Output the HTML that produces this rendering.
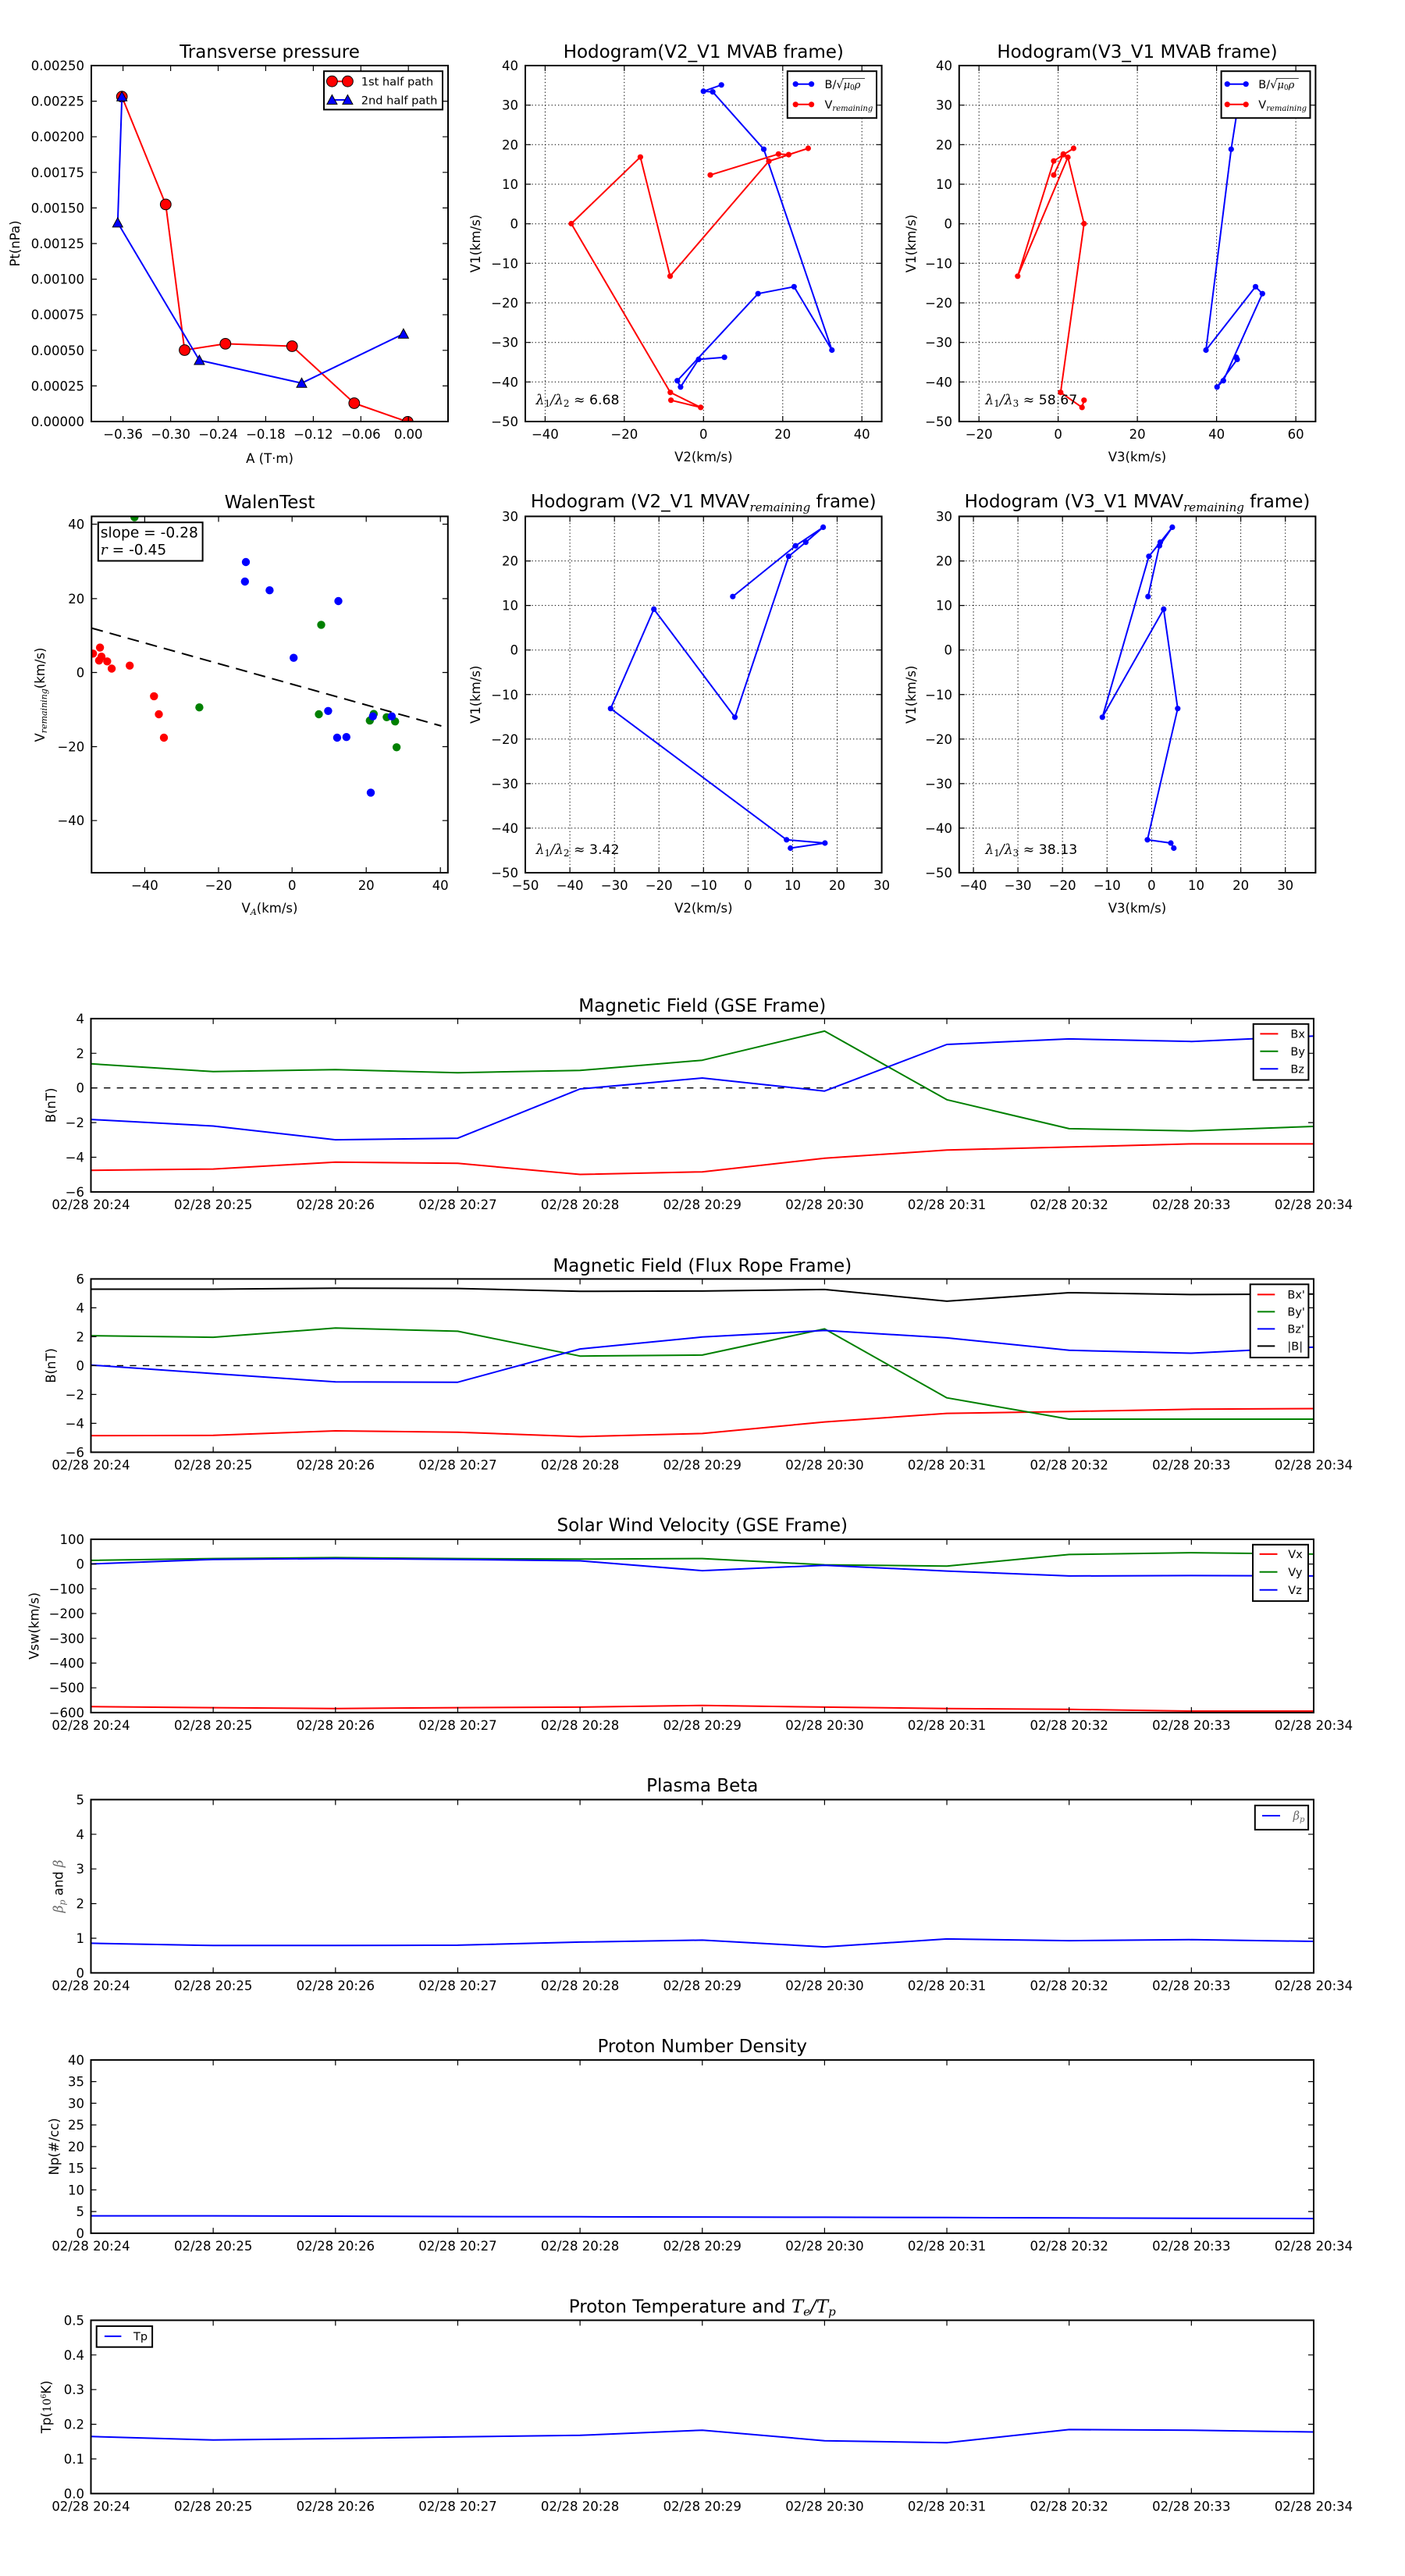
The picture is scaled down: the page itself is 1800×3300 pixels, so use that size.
<!DOCTYPE html>
<html><head><meta charset="utf-8">
<style>
html,body{margin:0;padding:0;background:#fff}
svg{display:block}
text{font-family:"DejaVu Sans","Liberation Sans",sans-serif;fill:#000}
.t{font-size:16.5px}
.tm{font-size:16.5px;text-anchor:middle}
.te{font-size:16.5px;text-anchor:end}
.ti{font-size:23px;text-anchor:middle}
.lg{font-size:14.5px}
.m{font-family:"DejaVu Serif","Liberation Serif",serif;font-style:italic}
.sr{font-family:"DejaVu Serif","Liberation Serif",serif}
.ax{fill:none;stroke:#000;stroke-width:2}
.tk{fill:none;stroke:#000;stroke-width:1.2}
.gr{fill:none;stroke:#000;stroke-width:1;stroke-dasharray:1.3,2.9}
.ln{fill:none;stroke-width:2;stroke-linejoin:round}
.lb{fill:#fff;stroke:#000;stroke-width:2}
</style></head>
<body>
<svg width="1800" height="3300" viewBox="0 0 1800 3300" xmlns="http://www.w3.org/2000/svg">
<rect x="0" y="0" width="1800" height="3300" fill="#fff"/>
<defs>
<clipPath id="c1"><rect x="117" y="84" width="457" height="456"/></clipPath>
<clipPath id="c2"><rect x="673" y="84" width="456.6" height="456"/></clipPath>
<clipPath id="c3"><rect x="1228.8" y="84" width="456.6" height="456"/></clipPath>
<clipPath id="c4"><rect x="117.3" y="661.5" width="456.5" height="456.5"/></clipPath>
<clipPath id="c5"><rect x="673" y="661.5" width="456.6" height="456.5"/></clipPath>
<clipPath id="c6"><rect x="1228.8" y="661.5" width="456.6" height="456.5"/></clipPath>
<clipPath id="p1"><rect x="116.5" y="1304.9" width="1566.5" height="222"/></clipPath>
<clipPath id="p2"><rect x="116.5" y="1638.4" width="1566.5" height="222"/></clipPath>
<clipPath id="p3"><rect x="116.5" y="1971.9" width="1566.5" height="222"/></clipPath>
<clipPath id="p4"><rect x="116.5" y="2305.4" width="1566.5" height="222"/></clipPath>
<clipPath id="p5"><rect x="116.5" y="2638.9" width="1566.5" height="222"/></clipPath>
<clipPath id="p6"><rect x="116.5" y="2972.4" width="1566.5" height="222"/></clipPath>
</defs>

<!-- ============ Plot 1: Transverse pressure ============ -->
<text class="ti" x="345.5" y="74">Transverse pressure</text>
<g clip-path="url(#c1)">
<path class="ln" stroke="#f00" d="M156.2 123.8L212.3 261.9L236.5 448.5L288.8 440.4L374.2 443.5L453.8 516.5L522.3 540.4"/>
<g fill="#f00" stroke="#000" stroke-width="1">
<circle cx="156.2" cy="123.8" r="6.9"/><circle cx="212.3" cy="261.9" r="6.9"/><circle cx="236.5" cy="448.5" r="6.9"/><circle cx="288.8" cy="440.4" r="6.9"/><circle cx="374.2" cy="443.5" r="6.9"/><circle cx="453.8" cy="516.5" r="6.9"/><circle cx="522.3" cy="540.4" r="6.9"/>
</g>
<path class="ln" stroke="#00f" d="M156.2 123.8L150.8 285.4L255.4 461.5L386.5 490.8L516.9 427.7"/>
<g fill="#00f" stroke="#000" stroke-width="1">
<polygon points="156.2,117.3 149.7,129.3 162.7,129.3"/>
<polygon points="150.8,278.9 144.3,290.9 157.3,290.9"/>
<polygon points="255.4,455 248.9,467 261.9,467"/>
<polygon points="386.5,484.3 380,496.3 393,496.3"/>
<polygon points="516.9,421.2 510.4,433.2 523.4,433.2"/>
</g>
</g>
<rect class="ax" x="117" y="84" width="457" height="456"/>
<path class="tk" d="M157.6 540v-7M157.6 84v7M218.6 540v-7M218.6 84v7M279.5 540v-7M279.5 84v7M340.4 540v-7M340.4 84v7M401.4 540v-7M401.4 84v7M462.3 540v-7M462.3 84v7M523.2 540v-7M523.2 84v7M117 129.6h7M574 129.6h-7M117 175.2h7M574 175.2h-7M117 220.8h7M574 220.8h-7M117 266.4h7M574 266.4h-7M117 312h7M574 312h-7M117 357.6h7M574 357.6h-7M117 403.2h7M574 403.2h-7M117 448.8h7M574 448.8h-7M117 494.4h7M574 494.4h-7"/>
<text class="tm" x="157.6" y="562">−0.36</text><text class="tm" x="218.6" y="562">−0.30</text><text class="tm" x="279.5" y="562">−0.24</text><text class="tm" x="340.4" y="562">−0.18</text><text class="tm" x="401.4" y="562">−0.12</text><text class="tm" x="462.3" y="562">−0.06</text><text class="tm" x="523.2" y="562">0.00</text>
<text class="te" x="108" y="90">0.00250</text><text class="te" x="108" y="135.6">0.00225</text><text class="te" x="108" y="181.2">0.00200</text><text class="te" x="108" y="226.8">0.00175</text><text class="te" x="108" y="272.4">0.00150</text><text class="te" x="108" y="318">0.00125</text><text class="te" x="108" y="363.6">0.00100</text><text class="te" x="108" y="409.2">0.00075</text><text class="te" x="108" y="454.8">0.00050</text><text class="te" x="108" y="500.4">0.00025</text><text class="te" x="108" y="546">0.00000</text>
<text class="tm" x="345.5" y="593">A (T·m)</text>
<text class="tm" transform="translate(25,312) rotate(-90)">Pt(nPa)</text>
<rect class="lb" x="415" y="91.2" width="152" height="49.2"/>
<path class="ln" stroke="#f00" d="M425.4 104.2H445.4"/>
<circle cx="425.4" cy="104.2" r="6.9" fill="#f00" stroke="#000"/><circle cx="445.4" cy="104.2" r="6.9" fill="#f00" stroke="#000"/>
<text class="lg" x="462.7" y="109.5" style="font-size:14.6px">1st half path</text>
<path class="ln" stroke="#00f" d="M425.4 128H445.4"/>
<polygon points="425.4,121.5 418.9,133.5 431.9,133.5" fill="#00f" stroke="#000"/><polygon points="445.4,121.5 438.9,133.5 451.9,133.5" fill="#00f" stroke="#000"/>
<text class="lg" x="462.7" y="133.3" style="font-size:14.6px">2nd half path</text>

<!-- ============ Plot 2: Hodogram V2_V1 MVAB ============ -->
<text class="ti" x="901.3" y="74">Hodogram(V2_V1 MVAB frame)</text>
<path class="gr" d="M698.4 84V540M799.8 84V540M901.3 84V540M1002.8 84V540M1104.2 84V540M673 134.7H1129.6M673 185.3H1129.6M673 236H1129.6M673 286.7H1129.6M673 337.3H1129.6M673 388H1129.6M673 438.7H1129.6M673 489.3H1129.6"/>
<g clip-path="url(#c2)">
<path class="ln" stroke="#00f" d="M924.2 108.8L901.2 116.9L913.1 117.7L978.5 191.2L1065.8 448.5L1017.3 367.3L971.2 376.2L867.7 487.7L871.9 495.8L895 460.4L928.1 457.7"/>
<g fill="#00f"><circle cx="924.2" cy="108.8" r="3.6"/><circle cx="901.2" cy="116.9" r="3.6"/><circle cx="913.1" cy="117.7" r="3.6"/><circle cx="978.5" cy="191.2" r="3.6"/><circle cx="1065.8" cy="448.5" r="3.6"/><circle cx="1017.3" cy="367.3" r="3.6"/><circle cx="971.2" cy="376.2" r="3.6"/><circle cx="867.7" cy="487.7" r="3.6"/><circle cx="871.9" cy="495.8" r="3.6"/><circle cx="895" cy="460.4" r="3.6"/><circle cx="928.1" cy="457.7" r="3.6"/></g>
<path class="ln" stroke="#f00" d="M910 224.2L997.3 197.3L1010.4 198.1L1035.4 190L985 206.5L858.5 353.8L820.4 201.2L731.9 286.5L858.8 502.7L897.7 521.9L859.6 512.7"/>
<g fill="#f00"><circle cx="910" cy="224.2" r="3.6"/><circle cx="997.3" cy="197.3" r="3.6"/><circle cx="1010.4" cy="198.1" r="3.6"/><circle cx="1035.4" cy="190" r="3.6"/><circle cx="985" cy="206.5" r="3.6"/><circle cx="858.5" cy="353.8" r="3.6"/><circle cx="820.4" cy="201.2" r="3.6"/><circle cx="731.9" cy="286.5" r="3.6"/><circle cx="858.8" cy="502.7" r="3.6"/><circle cx="897.7" cy="521.9" r="3.6"/><circle cx="859.6" cy="512.7" r="3.6"/></g>
</g>
<rect class="ax" x="673" y="84" width="456.6" height="456"/>
<path class="tk" d="M698.4 540v-7M698.4 84v7M799.8 540v-7M799.8 84v7M901.3 540v-7M901.3 84v7M1002.8 540v-7M1002.8 84v7M1104.2 540v-7M1104.2 84v7M673 134.7h7M1129.6 134.7h-7M673 185.3h7M1129.6 185.3h-7M673 236h7M1129.6 236h-7M673 286.7h7M1129.6 286.7h-7M673 337.3h7M1129.6 337.3h-7M673 388h7M1129.6 388h-7M673 438.7h7M1129.6 438.7h-7M673 489.3h7M1129.6 489.3h-7"/>
<text class="tm" x="698.4" y="562">−40</text><text class="tm" x="799.8" y="562">−20</text><text class="tm" x="901.3" y="562">0</text><text class="tm" x="1002.8" y="562">20</text><text class="tm" x="1104.2" y="562">40</text>
<text class="te" x="664" y="90">40</text><text class="te" x="664" y="140.7">30</text><text class="te" x="664" y="191.3">20</text><text class="te" x="664" y="242">10</text><text class="te" x="664" y="292.7">0</text><text class="te" x="664" y="343.3">−10</text><text class="te" x="664" y="394">−20</text><text class="te" x="664" y="444.7">−30</text><text class="te" x="664" y="495.3">−40</text><text class="te" x="664" y="546">−50</text>
<text class="tm" x="901.3" y="591">V2(km/s)</text>
<text class="tm" transform="translate(615,312) rotate(-90)">V1(km/s)</text>
<text x="686.5" y="518" style="font-size:17.3px"><tspan class="m">λ</tspan><tspan class="sr" style="font-size:12px" dy="3">1</tspan><tspan class="m" dy="-3">/λ</tspan><tspan class="sr" style="font-size:12px" dy="3">2</tspan><tspan class="sr" dy="-3"> ≈ </tspan>6.68</text>
<rect class="lb" x="1008.8" y="91.2" width="114.2" height="60"/>
<path class="ln" stroke="#00f" d="M1019.2 107.7H1039.6"/><circle cx="1019.2" cy="107.7" r="3.6" fill="#00f"/><circle cx="1039.6" cy="107.7" r="3.6" fill="#00f"/>
<text class="lg" x="1056.5" y="113">B/√<tspan class="m" style="font-size:13px">μ</tspan><tspan class="sr" style="font-size:9px" dy="2">0</tspan><tspan class="m" style="font-size:13px" dy="-2">ρ</tspan></text>
<path d="M1079 100.5H1108" stroke="#000" stroke-width="0.8"/>
<path class="ln" stroke="#f00" d="M1019.2 133.8H1039.6"/><circle cx="1019.2" cy="133.8" r="3.6" fill="#f00"/><circle cx="1039.6" cy="133.8" r="3.6" fill="#f00"/>
<text class="lg" x="1056.5" y="139">V<tspan class="m" style="font-size:10px" dy="3">remaining</tspan></text>

<!-- ============ Plot 3: Hodogram V3_V1 MVAB ============ -->
<text class="ti" x="1457" y="74">Hodogram(V3_V1 MVAB frame)</text>
<path class="gr" d="M1254.2 84V540M1355.6 84V540M1457.1 84V540M1558.6 84V540M1660.1 84V540M1228.8 134.7H1685.4M1228.8 185.3H1685.4M1228.8 236H1685.4M1228.8 286.7H1685.4M1228.8 337.3H1685.4M1228.8 388H1685.4M1228.8 438.7H1685.4M1228.8 489.3H1685.4"/>
<g clip-path="url(#c3)">
<path class="ln" stroke="#00f" d="M1590 108.8L1587 116.9L1588.8 117.7L1577.3 191.2L1545 448.5L1608.5 367.3L1617.3 376.2L1567.3 487.7L1559.2 495.8L1585 460.4L1583.8 457.7"/>
<g fill="#00f"><circle cx="1577.3" cy="191.2" r="3.6"/><circle cx="1545" cy="448.5" r="3.6"/><circle cx="1608.5" cy="367.3" r="3.6"/><circle cx="1617.3" cy="376.2" r="3.6"/><circle cx="1567.3" cy="487.7" r="3.6"/><circle cx="1559.2" cy="495.8" r="3.6"/><circle cx="1585" cy="460.4" r="3.6"/><circle cx="1583.8" cy="457.7" r="3.6"/></g>
<path class="ln" stroke="#f00" d="M1350 224.2L1362.3 197.3L1362.3 198.1L1375.4 190L1350 206.2L1303.8 353.8L1368.1 201.5L1388.8 286.5L1358.8 502.7L1386.2 521.9L1388.8 512.7"/>
<g fill="#f00"><circle cx="1350" cy="224.2" r="3.6"/><circle cx="1362.3" cy="197.3" r="3.6"/><circle cx="1362.3" cy="198.1" r="3.6"/><circle cx="1375.4" cy="190" r="3.6"/><circle cx="1350" cy="206.2" r="3.6"/><circle cx="1303.8" cy="353.8" r="3.6"/><circle cx="1368.1" cy="201.5" r="3.6"/><circle cx="1388.8" cy="286.5" r="3.6"/><circle cx="1358.8" cy="502.7" r="3.6"/><circle cx="1386.2" cy="521.9" r="3.6"/><circle cx="1388.8" cy="512.7" r="3.6"/></g>
</g>
<rect class="ax" x="1228.8" y="84" width="456.6" height="456"/>
<path class="tk" d="M1254.2 540v-7M1254.2 84v7M1355.6 540v-7M1355.6 84v7M1457.1 540v-7M1457.1 84v7M1558.6 540v-7M1558.6 84v7M1660.1 540v-7M1660.1 84v7M1228.8 134.7h7M1685.4 134.7h-7M1228.8 185.3h7M1685.4 185.3h-7M1228.8 236h7M1685.4 236h-7M1228.8 286.7h7M1685.4 286.7h-7M1228.8 337.3h7M1685.4 337.3h-7M1228.8 388h7M1685.4 388h-7M1228.8 438.7h7M1685.4 438.7h-7M1228.8 489.3h7M1685.4 489.3h-7"/>
<text class="tm" x="1254.2" y="562">−20</text><text class="tm" x="1355.6" y="562">0</text><text class="tm" x="1457.1" y="562">20</text><text class="tm" x="1558.6" y="562">40</text><text class="tm" x="1660.1" y="562">60</text>
<text class="te" x="1220" y="90">40</text><text class="te" x="1220" y="140.7">30</text><text class="te" x="1220" y="191.3">20</text><text class="te" x="1220" y="242">10</text><text class="te" x="1220" y="292.7">0</text><text class="te" x="1220" y="343.3">−10</text><text class="te" x="1220" y="394">−20</text><text class="te" x="1220" y="444.7">−30</text><text class="te" x="1220" y="495.3">−40</text><text class="te" x="1220" y="546">−50</text>
<text class="tm" x="1457" y="591">V3(km/s)</text>
<text class="tm" transform="translate(1173,312) rotate(-90)">V1(km/s)</text>
<text x="1262.3" y="518" style="font-size:17.3px"><tspan class="m">λ</tspan><tspan class="sr" style="font-size:12px" dy="3">1</tspan><tspan class="m" dy="-3">/λ</tspan><tspan class="sr" style="font-size:12px" dy="3">3</tspan><tspan class="sr" dy="-3"> ≈ </tspan>58.67</text>
<rect class="lb" x="1564.6" y="91.2" width="113.9" height="60"/>
<path class="ln" stroke="#00f" d="M1572.3 107.7H1596.2"/><circle cx="1572.3" cy="107.7" r="3.6" fill="#00f"/><circle cx="1596.2" cy="107.7" r="3.6" fill="#00f"/>
<text class="lg" x="1612.3" y="113">B/√<tspan class="m" style="font-size:13px">μ</tspan><tspan class="sr" style="font-size:9px" dy="2">0</tspan><tspan class="m" style="font-size:13px" dy="-2">ρ</tspan></text>
<path d="M1634.8 100.5H1663.8" stroke="#000" stroke-width="0.8"/>
<path class="ln" stroke="#f00" d="M1572.3 133.8H1596.2"/><circle cx="1572.3" cy="133.8" r="3.6" fill="#f00"/><circle cx="1596.2" cy="133.8" r="3.6" fill="#f00"/>
<text class="lg" x="1612.3" y="139">V<tspan class="m" style="font-size:10px" dy="3">remaining</tspan></text>

<!-- ============ Row 2: WalenTest ============ -->
<text class="ti" x="345.5" y="651">WalenTest</text>
<g clip-path="url(#c4)">
<path d="M117.3 804.6L565.4 930" fill="none" stroke="#000" stroke-width="2" stroke-dasharray="15,9"/>
<g fill="#f00"><circle cx="119.2" cy="837.3" r="5.2"/><circle cx="128.1" cy="829.6" r="5.2"/><circle cx="130" cy="841.2" r="5.2"/><circle cx="126.9" cy="846.2" r="5.2"/><circle cx="137.3" cy="847.3" r="5.2"/><circle cx="143.1" cy="856.5" r="5.2"/><circle cx="166.2" cy="852.7" r="5.2"/><circle cx="197.3" cy="891.9" r="5.2"/><circle cx="203.5" cy="915" r="5.2"/><circle cx="210" cy="945" r="5.2"/></g>
<g fill="#008000"><circle cx="172.3" cy="662.7" r="5.2"/><circle cx="255.4" cy="906.2" r="5.2"/><circle cx="411.5" cy="800.4" r="5.2"/><circle cx="408.5" cy="915" r="5.2"/><circle cx="473.8" cy="923.1" r="5.2"/><circle cx="478.8" cy="914.6" r="5.2"/><circle cx="495.4" cy="918.8" r="5.2"/><circle cx="506.2" cy="924.2" r="5.2"/><circle cx="508.1" cy="957.3" r="5.2"/></g>
<g fill="#00f"><circle cx="315" cy="720" r="5.2"/><circle cx="313.8" cy="745" r="5.2"/><circle cx="345.4" cy="756.2" r="5.2"/><circle cx="433.5" cy="770" r="5.2"/><circle cx="376.2" cy="842.7" r="5.2"/><circle cx="420.4" cy="910.8" r="5.2"/><circle cx="431.9" cy="945" r="5.2"/><circle cx="443.8" cy="944.2" r="5.2"/><circle cx="477.7" cy="917.7" r="5.2"/><circle cx="501.9" cy="917.7" r="5.2"/><circle cx="475" cy="1015.4" r="5.2"/></g>
</g>
<rect class="ax" x="117.3" y="661.5" width="456.5" height="456.5"/>
<path class="tk" d="M185.4 1118v-7M185.4 661.5v7M280 1118v-7M280 661.5v7M374.2 1118v-7M374.2 661.5v7M469.2 1118v-7M469.2 661.5v7M564.2 1118v-7M564.2 661.5v7M117.3 671.5h7M573.8 671.5h-7M117.3 766.9h7M573.8 766.9h-7M117.3 861.5h7M573.8 861.5h-7M117.3 956.5h7M573.8 956.5h-7M117.3 1051.2h7M573.8 1051.2h-7"/>
<text class="tm" x="185.4" y="1140">−40</text><text class="tm" x="280" y="1140">−20</text><text class="tm" x="374.2" y="1140">0</text><text class="tm" x="469.2" y="1140">20</text><text class="tm" x="564.2" y="1140">40</text>
<text class="te" x="108.3" y="677.5">40</text><text class="te" x="108.3" y="772.9">20</text><text class="te" x="108.3" y="867.5">0</text><text class="te" x="108.3" y="962.5">−20</text><text class="te" x="108.3" y="1057.2">−40</text>
<text class="tm" x="345.5" y="1169">V<tspan class="m" style="font-size:11px" dy="3">A</tspan><tspan dy="-3">(km/s)</tspan></text>
<text class="tm" transform="translate(57,890) rotate(-90)">V<tspan class="m" style="font-size:11px" dy="3">remaining</tspan><tspan dy="-3">(km/s)</tspan></text>
<rect class="lb" x="125.8" y="669.2" width="133.8" height="49.3"/>
<text x="128.8" y="688.5" style="font-size:18.6px">slope = -0.28</text>
<text x="128.8" y="710.4" style="font-size:18.6px"><tspan class="m">r</tspan> = -0.45</text>

<!-- ============ Row 2: Hodogram V2_V1 MVAV ============ -->
<text class="ti" x="901.3" y="650">Hodogram (V2_V1 MVAV<tspan class="m" style="font-size:15px" dy="5">remaining</tspan><tspan dy="-5"> frame)</tspan></text>
<path class="gr" d="M730.1 661.5V1118M787.2 661.5V1118M844.2 661.5V1118M901.3 661.5V1118M958.4 661.5V1118M1015.5 661.5V1118M1072.5 661.5V1118M673 718.6H1129.6M673 775.6H1129.6M673 832.7H1129.6M673 889.75H1129.6M673 946.8H1129.6M673 1003.9H1129.6M673 1060.9H1129.6"/>
<g clip-path="url(#c5)">
<path class="ln" stroke="#00f" d="M938.8 764.2L1019.2 699.2L1054.6 675.4L1032.3 694.6L1010.4 712.7L941.5 918.8L837.7 780.4L782.3 907.7L1007.7 1075.8L1056.9 1080L1012.7 1086.5"/>
<g fill="#00f"><circle cx="938.8" cy="764.2" r="3.6"/><circle cx="1019.2" cy="699.2" r="3.6"/><circle cx="1054.6" cy="675.4" r="3.6"/><circle cx="1032.3" cy="694.6" r="3.6"/><circle cx="1010.4" cy="712.7" r="3.6"/><circle cx="941.5" cy="918.8" r="3.6"/><circle cx="837.7" cy="780.4" r="3.6"/><circle cx="782.3" cy="907.7" r="3.6"/><circle cx="1007.7" cy="1075.8" r="3.6"/><circle cx="1056.9" cy="1080" r="3.6"/><circle cx="1012.7" cy="1086.5" r="3.6"/></g>
</g>
<rect class="ax" x="673" y="661.5" width="456.6" height="456.5"/>
<path class="tk" d="M730.1 1118v-7M730.1 661.5v7M787.2 1118v-7M787.2 661.5v7M844.2 1118v-7M844.2 661.5v7M901.3 1118v-7M901.3 661.5v7M958.4 1118v-7M958.4 661.5v7M1015.5 1118v-7M1015.5 661.5v7M1072.5 1118v-7M1072.5 661.5v7M673 718.6h7M1129.6 718.6h-7M673 775.6h7M1129.6 775.6h-7M673 832.7h7M1129.6 832.7h-7M673 889.75h7M1129.6 889.75h-7M673 946.8h7M1129.6 946.8h-7M673 1003.9h7M1129.6 1003.9h-7M673 1060.9h7M1129.6 1060.9h-7"/>
<text class="tm" x="673" y="1140">−50</text><text class="tm" x="730.1" y="1140">−40</text><text class="tm" x="787.2" y="1140">−30</text><text class="tm" x="844.2" y="1140">−20</text><text class="tm" x="901.3" y="1140">−10</text><text class="tm" x="958.4" y="1140">0</text><text class="tm" x="1015.5" y="1140">10</text><text class="tm" x="1072.5" y="1140">20</text><text class="tm" x="1129.6" y="1140">30</text>
<text class="te" x="664" y="667.5">30</text><text class="te" x="664" y="724.6">20</text><text class="te" x="664" y="781.6">10</text><text class="te" x="664" y="838.7">0</text><text class="te" x="664" y="895.75">−10</text><text class="te" x="664" y="952.8">−20</text><text class="te" x="664" y="1009.9">−30</text><text class="te" x="664" y="1066.9">−40</text><text class="te" x="664" y="1124">−50</text>
<text class="tm" x="901.3" y="1169">V2(km/s)</text>
<text class="tm" transform="translate(615,889.75) rotate(-90)">V1(km/s)</text>
<text x="686.5" y="1094" style="font-size:17.3px"><tspan class="m">λ</tspan><tspan class="sr" style="font-size:12px" dy="3">1</tspan><tspan class="m" dy="-3">/λ</tspan><tspan class="sr" style="font-size:12px" dy="3">2</tspan><tspan class="sr" dy="-3"> ≈ </tspan>3.42</text>

<!-- ============ Row 2: Hodogram V3_V1 MVAV ============ -->
<text class="ti" x="1457" y="650">Hodogram (V3_V1 MVAV<tspan class="m" style="font-size:15px" dy="5">remaining</tspan><tspan dy="-5"> frame)</tspan></text>
<path class="gr" d="M1247.1 661.5V1118M1304.1 661.5V1118M1361.2 661.5V1118M1418.3 661.5V1118M1475.4 661.5V1118M1532.5 661.5V1118M1589.6 661.5V1118M1646.7 661.5V1118M1228.8 718.6H1685.4M1228.8 775.6H1685.4M1228.8 832.7H1685.4M1228.8 889.75H1685.4M1228.8 946.8H1685.4M1228.8 1003.9H1685.4M1228.8 1060.9H1685.4"/>
<g clip-path="url(#c6)">
<path class="ln" stroke="#00f" d="M1470.8 764.2L1485.4 699.2L1501.9 675.4L1486.5 694.6L1471.9 712.7L1412.3 918.8L1490.8 780.4L1508.8 907.7L1470 1075.8L1500 1080L1503.8 1086.5"/>
<g fill="#00f"><circle cx="1470.8" cy="764.2" r="3.6"/><circle cx="1485.4" cy="699.2" r="3.6"/><circle cx="1501.9" cy="675.4" r="3.6"/><circle cx="1486.5" cy="694.6" r="3.6"/><circle cx="1471.9" cy="712.7" r="3.6"/><circle cx="1412.3" cy="918.8" r="3.6"/><circle cx="1490.8" cy="780.4" r="3.6"/><circle cx="1508.8" cy="907.7" r="3.6"/><circle cx="1470" cy="1075.8" r="3.6"/><circle cx="1500" cy="1080" r="3.6"/><circle cx="1503.8" cy="1086.5" r="3.6"/></g>
</g>
<rect class="ax" x="1228.8" y="661.5" width="456.6" height="456.5"/>
<path class="tk" d="M1247.1 1118v-7M1247.1 661.5v7M1304.1 1118v-7M1304.1 661.5v7M1361.2 1118v-7M1361.2 661.5v7M1418.3 1118v-7M1418.3 661.5v7M1475.4 1118v-7M1475.4 661.5v7M1532.5 1118v-7M1532.5 661.5v7M1589.6 1118v-7M1589.6 661.5v7M1646.7 1118v-7M1646.7 661.5v7M1228.8 718.6h7M1685.4 718.6h-7M1228.8 775.6h7M1685.4 775.6h-7M1228.8 832.7h7M1685.4 832.7h-7M1228.8 889.75h7M1685.4 889.75h-7M1228.8 946.8h7M1685.4 946.8h-7M1228.8 1003.9h7M1685.4 1003.9h-7M1228.8 1060.9h7M1685.4 1060.9h-7"/>
<text class="tm" x="1247.1" y="1140">−40</text><text class="tm" x="1304.1" y="1140">−30</text><text class="tm" x="1361.2" y="1140">−20</text><text class="tm" x="1418.3" y="1140">−10</text><text class="tm" x="1475.4" y="1140">0</text><text class="tm" x="1532.5" y="1140">10</text><text class="tm" x="1589.6" y="1140">20</text><text class="tm" x="1646.7" y="1140">30</text>
<text class="te" x="1220" y="667.5">30</text><text class="te" x="1220" y="724.6">20</text><text class="te" x="1220" y="781.6">10</text><text class="te" x="1220" y="838.7">0</text><text class="te" x="1220" y="895.75">−10</text><text class="te" x="1220" y="952.8">−20</text><text class="te" x="1220" y="1009.9">−30</text><text class="te" x="1220" y="1066.9">−40</text><text class="te" x="1220" y="1124">−50</text>
<text class="tm" x="1457" y="1169">V3(km/s)</text>
<text class="tm" transform="translate(1173,889.75) rotate(-90)">V1(km/s)</text>
<text x="1262.3" y="1094" style="font-size:17.3px"><tspan class="m">λ</tspan><tspan class="sr" style="font-size:12px" dy="3">1</tspan><tspan class="m" dy="-3">/λ</tspan><tspan class="sr" style="font-size:12px" dy="3">3</tspan><tspan class="sr" dy="-3"> ≈ </tspan>38.13</text>

<!-- ============ P1: Magnetic Field (GSE Frame) ============ -->
<text class="ti" x="899.75" y="1296">Magnetic Field (GSE Frame)</text>
<g clip-path="url(#p1)">
<path d="M116.5 1393.7H1683" fill="none" stroke="#000" stroke-width="1.4" stroke-dasharray="8.3,8.3"/>
<path class="ln" stroke="#f00" d="M116.5 1499.2L273.15 1497.6L429.8 1488.7L586.45 1490.3L743.1 1504.5L899.75 1501.2L1056.4 1483.8L1213.05 1473.2L1369.7 1469.4L1526.35 1465.4L1683 1465.4"/>
<path class="ln" stroke="#008000" d="M116.5 1362.8L273.15 1372.8L429.8 1370.2L586.45 1374.2L743.1 1371.3L899.75 1358.2L1056.4 1320.9L1213.05 1408.8L1369.7 1445.9L1526.35 1448.8L1683 1443"/>
<path class="ln" stroke="#00f" d="M116.5 1434.1L273.15 1442.5L429.8 1460.1L586.45 1458.1L743.1 1395L899.75 1381L1056.4 1397.7L1213.05 1338L1369.7 1330.9L1526.35 1334.2L1683 1327.3"/>
</g>
<rect class="ax" x="116.5" y="1304.9" width="1566.5" height="222"/>
<path class="tk" d="M273.15 1304.9v7M273.15 1526.9v-7M429.8 1304.9v7M429.8 1526.9v-7M586.45 1304.9v7M586.45 1526.9v-7M743.1 1304.9v7M743.1 1526.9v-7M899.75 1304.9v7M899.75 1526.9v-7M1056.4 1304.9v7M1056.4 1526.9v-7M1213.05 1304.9v7M1213.05 1526.9v-7M1369.7 1304.9v7M1369.7 1526.9v-7M1526.35 1304.9v7M1526.35 1526.9v-7M116.5 1349.3h7M1683 1349.3h-7M116.5 1393.7h7M1683 1393.7h-7M116.5 1438.1h7M1683 1438.1h-7M116.5 1482.5h7M1683 1482.5h-7"/>
<text class="te" x="108" y="1310.9">4</text><text class="te" x="108" y="1355.3">2</text><text class="te" x="108" y="1399.7">0</text><text class="te" x="108" y="1444.1">−2</text><text class="te" x="108" y="1488.5">−4</text><text class="te" x="108" y="1532.9">−6</text>
<text class="tm" x="116.5" y="1549">02/28 20:24</text><text class="tm" x="273.15" y="1549">02/28 20:25</text><text class="tm" x="429.8" y="1549">02/28 20:26</text><text class="tm" x="586.45" y="1549">02/28 20:27</text><text class="tm" x="743.1" y="1549">02/28 20:28</text><text class="tm" x="899.75" y="1549">02/28 20:29</text><text class="tm" x="1056.4" y="1549">02/28 20:30</text><text class="tm" x="1213.05" y="1549">02/28 20:31</text><text class="tm" x="1369.7" y="1549">02/28 20:32</text><text class="tm" x="1526.35" y="1549">02/28 20:33</text><text class="tm" x="1683" y="1549">02/28 20:34</text>
<text class="tm" transform="translate(71,1415.9) rotate(-90)">B(nT)</text>
<rect class="lb" x="1605.7" y="1311.8" width="70.7" height="71.7"/>
<path class="ln" stroke="#f00" d="M1614.4 1324.4H1637.4"/><text class="lg" x="1653.4" y="1329.4">Bx</text>
<path class="ln" stroke="#008000" d="M1614.4 1346.8H1637.4"/><text class="lg" x="1653.4" y="1351.8">By</text>
<path class="ln" stroke="#00f" d="M1614.4 1369.3H1637.4"/><text class="lg" x="1653.4" y="1374.3">Bz</text>

<!-- ============ P2: Magnetic Field (Flux Rope Frame) ============ -->
<text class="ti" x="899.75" y="1629">Magnetic Field (Flux Rope Frame)</text>
<g clip-path="url(#p2)">
<path d="M116.5 1749.4H1683" fill="none" stroke="#000" stroke-width="1.4" stroke-dasharray="8.3,8.3"/>
<path class="ln" stroke="#f00" d="M116.5 1839.1L273.15 1838.8L429.8 1833L586.45 1834.7L743.1 1840.4L899.75 1836.4L1056.4 1821.6L1213.05 1810.6L1369.7 1808.2L1526.35 1805.3L1683 1804.5"/>
<path class="ln" stroke="#008000" d="M116.5 1711.1L273.15 1713.1L429.8 1701.3L586.45 1705.4L743.1 1737.2L899.75 1735.9L1056.4 1702.4L1213.05 1790.7L1369.7 1818L1526.35 1818L1683 1818"/>
<path class="ln" stroke="#00f" d="M116.5 1748.7L273.15 1759.6L429.8 1770.3L586.45 1770.7L743.1 1728.1L899.75 1712.8L1056.4 1704.4L1213.05 1713.9L1369.7 1729.8L1526.35 1733.5L1683 1725.7"/>
<path class="ln" stroke="#000" d="M116.5 1651.5L273.15 1651.5L429.8 1650.2L586.45 1650.6L743.1 1654.3L899.75 1653.9L1056.4 1651.9L1213.05 1666.9L1369.7 1656L1526.35 1658.4L1683 1657.8"/>
</g>
<rect class="ax" x="116.5" y="1638.4" width="1566.5" height="222"/>
<path class="tk" d="M273.15 1638.4v7M273.15 1860.4v-7M429.8 1638.4v7M429.8 1860.4v-7M586.45 1638.4v7M586.45 1860.4v-7M743.1 1638.4v7M743.1 1860.4v-7M899.75 1638.4v7M899.75 1860.4v-7M1056.4 1638.4v7M1056.4 1860.4v-7M1213.05 1638.4v7M1213.05 1860.4v-7M1369.7 1638.4v7M1369.7 1860.4v-7M1526.35 1638.4v7M1526.35 1860.4v-7M116.5 1675.4h7M1683 1675.4h-7M116.5 1712.4h7M1683 1712.4h-7M116.5 1749.4h7M1683 1749.4h-7M116.5 1786.4h7M1683 1786.4h-7M116.5 1823.4h7M1683 1823.4h-7"/>
<text class="te" x="108" y="1644.4">6</text><text class="te" x="108" y="1681.4">4</text><text class="te" x="108" y="1718.4">2</text><text class="te" x="108" y="1755.4">0</text><text class="te" x="108" y="1792.4">−2</text><text class="te" x="108" y="1829.4">−4</text><text class="te" x="108" y="1866.4">−6</text>
<text class="tm" x="116.5" y="1882.4">02/28 20:24</text><text class="tm" x="273.15" y="1882.4">02/28 20:25</text><text class="tm" x="429.8" y="1882.4">02/28 20:26</text><text class="tm" x="586.45" y="1882.4">02/28 20:27</text><text class="tm" x="743.1" y="1882.4">02/28 20:28</text><text class="tm" x="899.75" y="1882.4">02/28 20:29</text><text class="tm" x="1056.4" y="1882.4">02/28 20:30</text><text class="tm" x="1213.05" y="1882.4">02/28 20:31</text><text class="tm" x="1369.7" y="1882.4">02/28 20:32</text><text class="tm" x="1526.35" y="1882.4">02/28 20:33</text><text class="tm" x="1683" y="1882.4">02/28 20:34</text>
<text class="tm" transform="translate(71,1749.4) rotate(-90)">B(nT)</text>
<rect class="lb" x="1601.7" y="1645.3" width="74.7" height="93.8"/>
<path class="ln" stroke="#f00" d="M1610.9 1658.4H1633.3"/><text class="lg" x="1649.4" y="1663.4">Bx'</text>
<path class="ln" stroke="#008000" d="M1610.9 1680.4H1633.3"/><text class="lg" x="1649.4" y="1685.4">By'</text>
<path class="ln" stroke="#00f" d="M1610.9 1702.4H1633.3"/><text class="lg" x="1649.4" y="1707.4">Bz'</text>
<path class="ln" stroke="#000" d="M1610.9 1724.4H1633.3"/><text class="lg" x="1649.4" y="1729.4">|B|</text>

<!-- ============ P3: Solar Wind Velocity ============ -->
<text class="ti" x="899.75" y="1961.6">Solar Wind Velocity (GSE Frame)</text>
<g clip-path="url(#p3)">
<path class="ln" stroke="#f00" d="M116.5 2186.3L273.15 2187.6L429.8 2188.7L586.45 2187.6L743.1 2186.9L899.75 2184.7L1056.4 2186.9L1213.05 2188.7L1369.7 2189.8L1526.35 2192L1683 2192"/>
<path class="ln" stroke="#008000" d="M116.5 1998.9L273.15 1996.6L429.8 1995.4L586.45 1996.6L743.1 1997.3L899.75 1996.6L1056.4 2004.6L1213.05 2006.3L1369.7 1991.4L1526.35 1989.1L1683 1990.9"/>
<path class="ln" stroke="#00f" d="M116.5 2003.5L273.15 1997.7L429.8 1996.6L586.45 1997.7L743.1 1999.5L899.75 2012.1L1056.4 2005.2L1213.05 2012.6L1369.7 2018.9L1526.35 2018.4L1683 2018.9"/>
</g>
<rect class="ax" x="116.5" y="1971.9" width="1566.5" height="222"/>
<path class="tk" d="M273.15 1971.9v7M273.15 2193.9v-7M429.8 1971.9v7M429.8 2193.9v-7M586.45 1971.9v7M586.45 2193.9v-7M743.1 1971.9v7M743.1 2193.9v-7M899.75 1971.9v7M899.75 2193.9v-7M1056.4 1971.9v7M1056.4 2193.9v-7M1213.05 1971.9v7M1213.05 2193.9v-7M1369.7 1971.9v7M1369.7 2193.9v-7M1526.35 1971.9v7M1526.35 2193.9v-7M116.5 2003.6h7M1683 2003.6h-7M116.5 2035.3h7M1683 2035.3h-7M116.5 2067h7M1683 2067h-7M116.5 2098.8h7M1683 2098.8h-7M116.5 2130.5h7M1683 2130.5h-7M116.5 2162.2h7M1683 2162.2h-7"/>
<text class="te" x="108" y="1977.9">100</text><text class="te" x="108" y="2009.6">0</text><text class="te" x="108" y="2041.3">−100</text><text class="te" x="108" y="2073">−200</text><text class="te" x="108" y="2104.8">−300</text><text class="te" x="108" y="2136.5">−400</text><text class="te" x="108" y="2168.2">−500</text><text class="te" x="108" y="2199.9">−600</text>
<text class="tm" x="116.5" y="2215.9">02/28 20:24</text><text class="tm" x="273.15" y="2215.9">02/28 20:25</text><text class="tm" x="429.8" y="2215.9">02/28 20:26</text><text class="tm" x="586.45" y="2215.9">02/28 20:27</text><text class="tm" x="743.1" y="2215.9">02/28 20:28</text><text class="tm" x="899.75" y="2215.9">02/28 20:29</text><text class="tm" x="1056.4" y="2215.9">02/28 20:30</text><text class="tm" x="1213.05" y="2215.9">02/28 20:31</text><text class="tm" x="1369.7" y="2215.9">02/28 20:32</text><text class="tm" x="1526.35" y="2215.9">02/28 20:33</text><text class="tm" x="1683" y="2215.9">02/28 20:34</text>
<text class="tm" transform="translate(49.4,2082.9) rotate(-90)">Vsw(km/s)</text>
<rect class="lb" x="1605" y="1978.8" width="71" height="72.3"/>
<path class="ln" stroke="#f00" d="M1613.6 1990.9H1636.5"/><text class="lg" x="1650.3" y="1995.9">Vx</text>
<path class="ln" stroke="#008000" d="M1613.6 2013.8H1636.5"/><text class="lg" x="1650.3" y="2018.8">Vy</text>
<path class="ln" stroke="#00f" d="M1613.6 2036.8H1636.5"/><text class="lg" x="1650.3" y="2041.8">Vz</text>

<!-- ============ P4: Plasma Beta ============ -->
<text class="ti" x="899.75" y="2295.1">Plasma Beta</text>
<g clip-path="url(#p4)">
<path class="ln" stroke="#00f" d="M116.5 2489.4L273.15 2492.3L429.8 2492.3L586.45 2491.9L743.1 2487.9L899.75 2485.4L1056.4 2494.1L1213.05 2483.9L1369.7 2486.1L1526.35 2484.8L1683 2487"/>
</g>
<rect class="ax" x="116.5" y="2305.4" width="1566.5" height="222"/>
<path class="tk" d="M273.15 2305.4v7M273.15 2527.4v-7M429.8 2305.4v7M429.8 2527.4v-7M586.45 2305.4v7M586.45 2527.4v-7M743.1 2305.4v7M743.1 2527.4v-7M899.75 2305.4v7M899.75 2527.4v-7M1056.4 2305.4v7M1056.4 2527.4v-7M1213.05 2305.4v7M1213.05 2527.4v-7M1369.7 2305.4v7M1369.7 2527.4v-7M1526.35 2305.4v7M1526.35 2527.4v-7M116.5 2349.8h7M1683 2349.8h-7M116.5 2394.2h7M1683 2394.2h-7M116.5 2438.6h7M1683 2438.6h-7M116.5 2483h7M1683 2483h-7"/>
<text class="te" x="108" y="2311.4">5</text><text class="te" x="108" y="2355.8">4</text><text class="te" x="108" y="2400.2">3</text><text class="te" x="108" y="2444.6">2</text><text class="te" x="108" y="2489">1</text><text class="te" x="108" y="2533.4">0</text>
<text class="tm" x="116.5" y="2549.4">02/28 20:24</text><text class="tm" x="273.15" y="2549.4">02/28 20:25</text><text class="tm" x="429.8" y="2549.4">02/28 20:26</text><text class="tm" x="586.45" y="2549.4">02/28 20:27</text><text class="tm" x="743.1" y="2549.4">02/28 20:28</text><text class="tm" x="899.75" y="2549.4">02/28 20:29</text><text class="tm" x="1056.4" y="2549.4">02/28 20:30</text><text class="tm" x="1213.05" y="2549.4">02/28 20:31</text><text class="tm" x="1369.7" y="2549.4">02/28 20:32</text><text class="tm" x="1526.35" y="2549.4">02/28 20:33</text><text class="tm" x="1683" y="2549.4">02/28 20:34</text>
<text class="tm" transform="translate(80.4,2416.4) rotate(-90)"><tspan class="m" style="fill:#666">β</tspan><tspan class="m" style="fill:#666;font-size:11px" dy="3">p</tspan><tspan dy="-3"> and </tspan><tspan class="m" style="fill:#666">β</tspan></text>
<rect class="lb" x="1607.8" y="2312.9" width="68.3" height="31"/>
<path class="ln" stroke="#00f" d="M1617 2326H1640"/><text class="lg" x="1656.6" y="2331"><tspan class="m" style="fill:#666">β</tspan><tspan class="m" style="fill:#666;font-size:10px" dy="3">p</tspan></text>

<!-- ============ P5: Proton Number Density ============ -->
<text class="ti" x="899.75" y="2629.2">Proton Number Density</text>
<g clip-path="url(#p5)">
<path class="ln" stroke="#00f" d="M116.5 2838.6L273.15 2838.6L429.8 2839L586.45 2839.5L743.1 2839.8L899.75 2840.1L1056.4 2840.4L1213.05 2840.8L1369.7 2841.3L1526.35 2841.7L1683 2842.1"/>
</g>
<rect class="ax" x="116.5" y="2638.9" width="1566.5" height="222"/>
<path class="tk" d="M273.15 2638.9v7M273.15 2860.9v-7M429.8 2638.9v7M429.8 2860.9v-7M586.45 2638.9v7M586.45 2860.9v-7M743.1 2638.9v7M743.1 2860.9v-7M899.75 2638.9v7M899.75 2860.9v-7M1056.4 2638.9v7M1056.4 2860.9v-7M1213.05 2638.9v7M1213.05 2860.9v-7M1369.7 2638.9v7M1369.7 2860.9v-7M1526.35 2638.9v7M1526.35 2860.9v-7M116.5 2666.65h7M1683 2666.65h-7M116.5 2694.4h7M1683 2694.4h-7M116.5 2722.15h7M1683 2722.15h-7M116.5 2749.9h7M1683 2749.9h-7M116.5 2777.65h7M1683 2777.65h-7M116.5 2805.4h7M1683 2805.4h-7M116.5 2833.15h7M1683 2833.15h-7"/>
<text class="te" x="108" y="2644.9">40</text><text class="te" x="108" y="2672.65">35</text><text class="te" x="108" y="2700.4">30</text><text class="te" x="108" y="2728.15">25</text><text class="te" x="108" y="2755.9">20</text><text class="te" x="108" y="2783.65">15</text><text class="te" x="108" y="2811.4">10</text><text class="te" x="108" y="2839.15">5</text><text class="te" x="108" y="2866.9">0</text>
<text class="tm" x="116.5" y="2882.9">02/28 20:24</text><text class="tm" x="273.15" y="2882.9">02/28 20:25</text><text class="tm" x="429.8" y="2882.9">02/28 20:26</text><text class="tm" x="586.45" y="2882.9">02/28 20:27</text><text class="tm" x="743.1" y="2882.9">02/28 20:28</text><text class="tm" x="899.75" y="2882.9">02/28 20:29</text><text class="tm" x="1056.4" y="2882.9">02/28 20:30</text><text class="tm" x="1213.05" y="2882.9">02/28 20:31</text><text class="tm" x="1369.7" y="2882.9">02/28 20:32</text><text class="tm" x="1526.35" y="2882.9">02/28 20:33</text><text class="tm" x="1683" y="2882.9">02/28 20:34</text>
<text class="tm" transform="translate(75,2749.9) rotate(-90)">Np(#/cc)</text>

<!-- ============ P6: Proton Temperature ============ -->
<text class="ti" x="899.75" y="2962.7">Proton Temperature and <tspan class="m">T</tspan><tspan class="m" style="font-size:15px" dy="4">e</tspan><tspan class="m" dy="-4">/T</tspan><tspan class="m" style="font-size:15px" dy="4">p</tspan></text>
<g clip-path="url(#p6)">
<path class="ln" stroke="#00f" d="M116.5 3121.3L273.15 3125.8L429.8 3124L586.45 3121.7L743.1 3119.8L899.75 3113.2L1056.4 3126.7L1213.05 3129.3L1369.7 3112.4L1526.35 3113.3L1683 3115.5"/>
</g>
<rect class="ax" x="116.5" y="2972.4" width="1566.5" height="222"/>
<path class="tk" d="M273.15 2972.4v7M273.15 3194.4v-7M429.8 2972.4v7M429.8 3194.4v-7M586.45 2972.4v7M586.45 3194.4v-7M743.1 2972.4v7M743.1 3194.4v-7M899.75 2972.4v7M899.75 3194.4v-7M1056.4 2972.4v7M1056.4 3194.4v-7M1213.05 2972.4v7M1213.05 3194.4v-7M1369.7 2972.4v7M1369.7 3194.4v-7M1526.35 2972.4v7M1526.35 3194.4v-7M116.5 3016.8h7M1683 3016.8h-7M116.5 3061.2h7M1683 3061.2h-7M116.5 3105.6h7M1683 3105.6h-7M116.5 3150h7M1683 3150h-7"/>
<text class="te" x="108" y="2978.4">0.5</text><text class="te" x="108" y="3022.8">0.4</text><text class="te" x="108" y="3067.2">0.3</text><text class="te" x="108" y="3111.6">0.2</text><text class="te" x="108" y="3156">0.1</text><text class="te" x="108" y="3200.4">0.0</text>
<text class="tm" x="116.5" y="3216.4">02/28 20:24</text><text class="tm" x="273.15" y="3216.4">02/28 20:25</text><text class="tm" x="429.8" y="3216.4">02/28 20:26</text><text class="tm" x="586.45" y="3216.4">02/28 20:27</text><text class="tm" x="743.1" y="3216.4">02/28 20:28</text><text class="tm" x="899.75" y="3216.4">02/28 20:29</text><text class="tm" x="1056.4" y="3216.4">02/28 20:30</text><text class="tm" x="1213.05" y="3216.4">02/28 20:31</text><text class="tm" x="1369.7" y="3216.4">02/28 20:32</text><text class="tm" x="1526.35" y="3216.4">02/28 20:33</text><text class="tm" x="1683" y="3216.4">02/28 20:34</text>
<text class="tm" transform="translate(65.2,3083.4) rotate(-90)">Tp(<tspan class="sr" style="font-size:14px">10</tspan><tspan class="sr" style="font-size:9px" dy="-6">6</tspan><tspan dy="6">K)</tspan></text>
<rect class="lb" x="123.7" y="2979.9" width="71.4" height="26.8"/>
<path class="ln" stroke="#00f" d="M133.9 2992.9H155.4"/><text class="lg" x="171" y="2998">Tp</text>
</svg>
</body></html>
